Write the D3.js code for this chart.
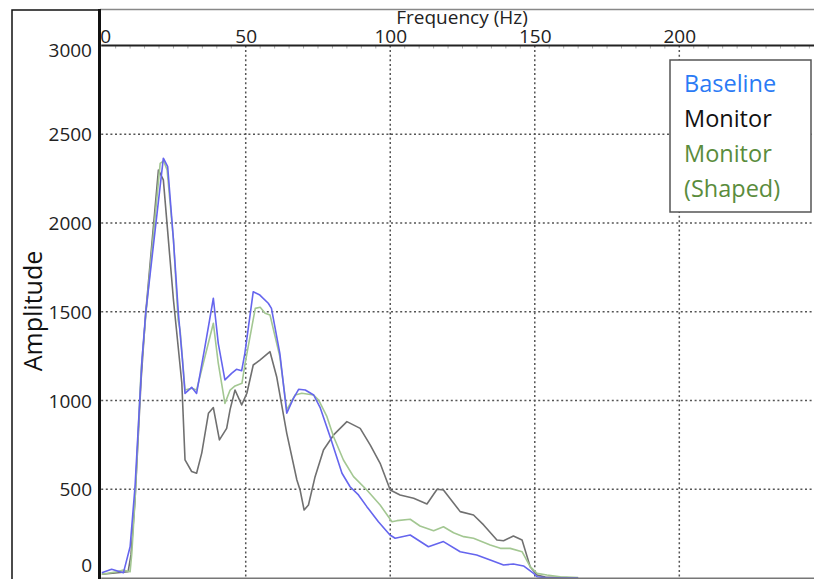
<!DOCTYPE html>
<html>
<head>
<meta charset="utf-8">
<script src="https://cdn.jsdelivr.net/npm/d3@7"></script>
<style>
  body { margin: 0; background: #fff; }
  svg text { font-family: "Open Sans", sans-serif; }
</style>
</head>
<body>
<div id="chart"></div>
<script>
// tick values
var xTicks = [0, 50, 100, 150, 200];
var yTicks = [0, 500, 1000, 1500, 2000, 2500, 3000];

// series (Hz, amplitude)
var baselineHz = [0.2, 3.6, 7.7, 10.0, 11.7, 14.1, 15.4, 21.5, 23.0, 25.0, 26.7, 28.1, 29.0, 31.3, 33.0, 35.9, 38.8, 40.5, 42.8, 45.1, 46.8, 48.6, 49.7, 52.6, 54.9, 57.8, 58.9, 61.8, 64.2, 66.5, 68.3, 70.6, 73.5, 75.8, 79.2, 83.3, 86.1, 89.0, 91.9, 95.9, 99.9, 101.7, 106.9, 113.2, 118.4, 124.2, 129.9, 134.6, 139.2, 142.6, 146.1, 149.6, 150.8, 155, 165];
var baselineAmp = [30, 49, 30, 176, 514, 1228, 1493, 2365, 2317, 1904, 1491, 1228, 1040, 1074, 1040, 1303, 1576, 1322, 1116, 1153, 1176, 1168, 1266, 1613, 1594, 1548, 1519, 1266, 928, 1012, 1063, 1059, 1031, 958, 796, 590, 514, 468, 402, 317, 242, 224, 242, 176, 205, 148, 130, 101, 73, 79, 68, 26, 7, 0, 0];

var monitorHz = [0.2, 4.8, 9.3, 10.3, 11.7, 13.8, 15.4, 19.8, 21.5, 25.0, 27.9, 29.0, 31.3, 33.0, 34.8, 37.1, 38.8, 40.9, 43.4, 44.6, 46.3, 48.6, 50.4, 52.6, 54.9, 58.4, 60.7, 64.2, 67.7, 68.8, 70.2, 71.7, 74.0, 76.9, 80.4, 85.0, 89.6, 93.1, 96.5, 100.0, 103.4, 108.1, 112.7, 116.2, 118.4, 124.2, 128.8, 132.3, 136.9, 139.2, 142.6, 145.6, 148.4, 150.8, 153.6, 158.8, 165];
var monitorAmp = [21, 28, 35, 130, 439, 1116, 1493, 2299, 2243, 1566, 1097, 665, 600, 590, 705, 928, 960, 778, 843, 950, 1059, 975, 1041, 1200, 1228, 1275, 1134, 815, 552, 496, 383, 411, 571, 721, 806, 881, 843, 749, 646, 496, 468, 449, 417, 500, 496, 374, 355, 299, 214, 210, 237, 214, 64, 17, 6, 3, 0];

var shapedHz = [0.2, 5.4, 7.6, 10.0, 10.6, 11.7, 13.8, 15.6, 20.4, 21.6, 22.8, 25.0, 26.6, 27.3, 29.0, 31.3, 33.0, 38.8, 40.5, 42.8, 44.6, 46.3, 48.7, 49.8, 53.3, 55.0, 56.7, 58.4, 61.8, 64.2, 67.1, 69.4, 73.5, 75.2, 78.1, 80.4, 83.8, 87.3, 91.9, 96.5, 100.6, 102.3, 106.9, 110.3, 115.0, 118.4, 121.9, 125.4, 128.8, 134.6, 138.1, 141.5, 145.6, 148.4, 150.8, 154.2, 158.8, 165];
var shapedAmp = [21, 35, 45, 35, 141, 439, 1172, 1510, 2336, 2350, 2299, 1904, 1454, 1397, 1059, 1069, 1059, 1435, 1210, 984, 1059, 1082, 1097, 1210, 1519, 1525, 1491, 1482, 1247, 947, 1031, 1041, 1031, 1003, 909, 796, 665, 571, 496, 411, 317, 323, 331, 293, 266, 289, 255, 233, 224, 186, 167, 167, 148, 64, 26, 17, 7, 3];

var legendNames = ["Baseline", "Monitor", "Monitor", "(Shaped)"];

// layout
var W = 814, H = 579;
var plotLeft = 101.2, plotTop = 45.5, plotBottom = 578;

var x = d3.scaleLinear().domain([0, 246.6]).range([plotLeft, W]);
var y = d3.scaleLinear().domain([0, 3000]).range([plotBottom, plotTop]);

var svg = d3.select("#chart").append("svg")
    .attr("width", W)
    .attr("height", H);

svg.append("rect").attr("width", W).attr("height", H).attr("fill", "#fff");

// clip for plot area
svg.append("clipPath").attr("id", "plotclip")
  .append("rect")
    .attr("x", plotLeft).attr("y", plotTop - 2)
    .attr("width", W - plotLeft).attr("height", plotBottom - plotTop + 2);

// outer frame: top grey border and left label panel
svg.append("line")
    .attr("x1", 100).attr("x2", W).attr("y1", 9.5).attr("y2", 9.5)
    .attr("stroke", "#888").attr("stroke-width", 1.5);
svg.append("rect")
    .attr("x", 12).attr("y", 10).attr("width", 88).attr("height", 575)
    .attr("fill", "none").attr("stroke", "#111").attr("stroke-width", 1.5);

// grid
var dash = "2,2.6";
svg.append("g").selectAll("line")
    .data(yTicks.filter(d => d > 0 && d < 3000))
  .enter().append("line")
    .attr("x1", plotLeft).attr("x2", W)
    .attr("y1", d => y(d)).attr("y2", d => y(d))
    .attr("stroke", "#555").attr("stroke-width", 1.5)
    .attr("stroke-dasharray", dash);
svg.append("g").selectAll("line")
    .data(xTicks.filter(d => d > 0))
  .enter().append("line")
    .attr("x1", d => x(d)).attr("x2", d => x(d))
    .attr("y1", plotTop).attr("y2", plotBottom)
    .attr("stroke", "#555").attr("stroke-width", 1.5)
    .attr("stroke-dasharray", dash);

// minor ticks under the top axis
svg.append("g").selectAll("line")
    .data(d3.range(5, 246, 5).filter(d => d % 50 != 0))
  .enter().append("line")
    .attr("x1", d => x(d)).attr("x2", d => x(d))
    .attr("y1", plotTop).attr("y2", plotTop + 3)
    .attr("stroke", "#aaa").attr("stroke-width", 1);

// series
var line = d3.line()
    .x(d => x(d[0]))
    .y(d => y(d[1]));

var series = [
  {hz: monitorHz, amp: monitorAmp, color: "#707070"},
  {hz: shapedHz, amp: shapedAmp, color: "#a3c792"},
  {hz: baselineHz, amp: baselineAmp, color: "#6565ee"}
];

var lines = svg.append("g").attr("clip-path", "url(#plotclip)");
series.forEach(function(s) {
  lines.append("path")
      .datum(d3.zip(s.hz, s.amp))
      .attr("fill", "none")
      .attr("stroke", s.color)
      .attr("stroke-width", 1.6)
      .attr("stroke-linejoin", "round")
      .attr("d", line);
});

// bottom axis line
svg.append("line")
    .attr("x1", plotLeft).attr("x2", W).attr("y1", plotBottom + 0.5).attr("y2", plotBottom + 0.5)
    .attr("stroke", "#777").attr("stroke-width", 2);

// top axis
var xAxis = svg.append("g")
    .attr("transform", "translate(0," + plotTop + ")")
    .call(d3.axisTop(x).tickValues(xTicks).tickSize(0).tickPadding(3));
xAxis.select(".domain").remove();
xAxis.selectAll("text")
    .attr("font-size", 19).attr("fill", "#222")
    .attr("dx", d => d === 0 ? 4 : 0);
svg.append("line")
    .attr("x1", plotLeft).attr("x2", W).attr("y1", plotTop).attr("y2", plotTop)
    .attr("stroke", "#222").attr("stroke-width", 2);

// left axis
var yAxis = svg.append("g")
    .attr("transform", "translate(100,0)")
    .call(d3.axisLeft(y).tickValues(yTicks).tickFormat(d3.format("d")).tickSize(0).tickPadding(8));
yAxis.select(".domain").remove();
yAxis.selectAll("text")
    .attr("font-size", 19).attr("fill", "#222")
    .attr("dy", d => d === 3000 ? "0.6em" : d === 0 ? "-0.32em" : "0.35em");

// thick left axis line
svg.append("line")
    .attr("x1", 99.5).attr("x2", 99.5).attr("y1", 9).attr("y2", H)
    .attr("stroke", "#111").attr("stroke-width", 3);

// axis titles
svg.append("text")
    .attr("x", 462).attr("y", 24)
    .attr("text-anchor", "middle")
    .attr("font-size", 19).attr("fill", "#222")
    .text("Frequency (Hz)");
svg.append("text")
    .attr("transform", "translate(42,311) rotate(-90)")
    .attr("text-anchor", "middle")
    .attr("font-size", 25).attr("fill", "#111")
    .text("Amplitude");

// legend
var legend = svg.append("g").attr("transform", "translate(670,60)");
legend.append("rect")
    .attr("width", 141).attr("height", 152)
    .attr("fill", "#fff").attr("stroke", "#555").attr("stroke-width", 1.5);
var legendColors = ["#2a7af5", "#111", "#5a8c3c", "#5a8c3c"];
legend.selectAll("text")
    .data(legendNames)
  .enter().append("text")
    .attr("x", 14)
    .attr("y", (d, i) => 32 + i * 35)
    .attr("font-size", 23.5)
    .attr("fill", (d, i) => legendColors[i])
    .text(d => d);
</script>
</body>
</html>
